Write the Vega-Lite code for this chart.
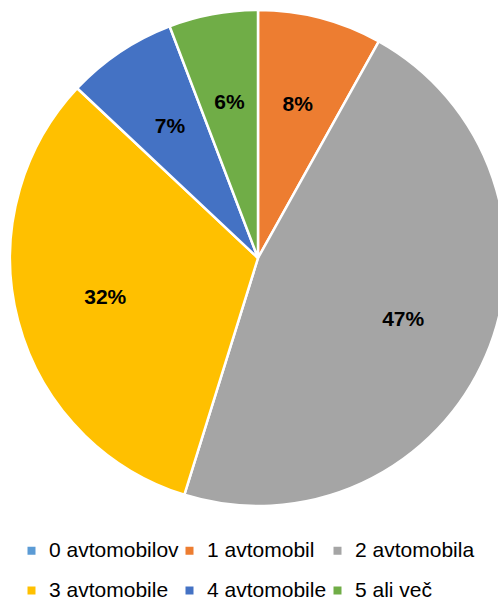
{
  "$schema": "https://vega.github.io/schema/vega-lite/v6.json",
  "width": 502,
  "height": 516,
  "padding": {"left": 5, "top": 0, "right": 0, "bottom": 0},
  "background": "white",
  "data": {"values": [
    {"kategorija": "0 avtomobilov", "delez": 0, "red": 0},
    {"kategorija": "1 avtomobil", "delez": 0.081, "red": 1},
    {"kategorija": "2 avtomobila", "delez": 0.467, "red": 2},
    {"kategorija": "3 avtomobile", "delez": 0.322, "red": 3},
    {"kategorija": "4 avtomobile", "delez": 0.072, "red": 4},
    {"kategorija": "5 ali več", "delez": 0.058, "red": 5}
  ]},
  "encoding": {
    "theta": {"field": "delez", "type": "quantitative", "stack": true},
    "order": {"field": "red", "type": "quantitative"},
    "color": {
      "field": "kategorija", "type": "nominal",
      "scale": {
        "domain": ["0 avtomobilov", "1 avtomobil", "2 avtomobila", "3 avtomobile", "4 avtomobile", "5 ali več"],
        "range": ["#5B9BD5", "#ED7D31", "#A5A5A5", "#FFC000", "#4472C4", "#70AD47"]
      },
      "legend": {
        "orient": "none",
        "direction": "horizontal",
        "legendX": 14,
        "legendY": 540,
        "title": null,
        "columns": 3,
        "symbolType": "square",
        "symbolSize": 64,
        "symbolStrokeWidth": 0,
        "labelFont": "Liberation Sans",
        "labelFontSize": 21,
        "labelColor": "#000000",
        "labelOffset": 7,
        "rowPadding": 18,
        "columnPadding": -6
      }
    }
  },
  "layer": [
    {"mark": {"type": "arc", "outerRadius": 248, "stroke": "white", "strokeWidth": 2.5}},
    {
      "transform": [{"filter": "datum.delez > 0"}],
      "mark": {"type": "text", "radius": 158, "font": "Liberation Sans", "fontSize": 21, "fontWeight": "bold"},
      "encoding": {"text": {"field": "delez", "type": "quantitative", "format": ".0%"}, "color": {"value": "black"}}
    }
  ],
  "view": {"stroke": null}
}
